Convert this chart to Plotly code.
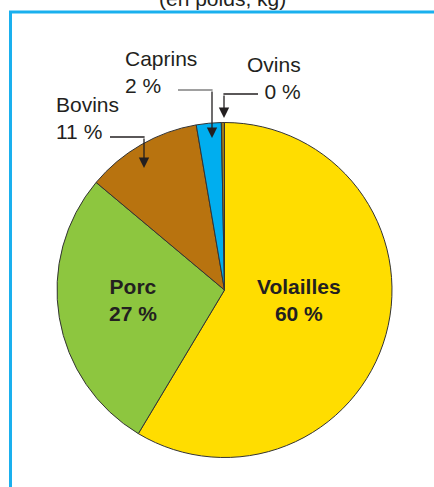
import plotly.graph_objects as go

W, H = 434, 487

# Data
categories = ["Volailles", "Porc", "Bovins", "Caprins", "Ovins"]
shares = [58.6, 27.5, 11.2, 2.4, 0.3]          # angular share
labels_pct = ["60 %", "27 %", "11 %", "2 %", "0 %"]  # printed labels
colors = ["#FFDD00", "#8DC63F", "#B8730F", "#00AEEF", "#9C7A1A"]

def px(x):
    return x / W

def py(y):
    return 1 - y / H

FONT = "Liberation Sans, Arial"

fig = go.Figure()
fig.add_trace(go.Pie(
    labels=categories,
    values=shares,
    sort=False,
    direction="clockwise",
    rotation=0,
    marker=dict(colors=colors, line=dict(color="#333333", width=1)),
    textinfo="none",
    hoverinfo="label+percent",
    domain=dict(x=[px(57), px(392)], y=[py(457.5), py(122.5)]),
    showlegend=False,
))

ann = []
# inside bold labels
inside = {"Volailles": (299, 300), "Porc": (133, 300)}
for name, (x, y) in inside.items():
    i = categories.index(name)
    ann.append(dict(x=px(x), y=py(y), xref="paper", yref="paper",
                    text=f"<b>{name}<br>{labels_pct[i]}</b>", showarrow=False,
                    font=dict(family=FONT, size=21, color="#231F20"),
                    xanchor="center", yanchor="middle", align="center"))

# outside labels
outside = {"Bovins": (54, 118, "left"), "Caprins": (123, 72, "left"), "Ovins": (303, 78, "right")}
for name, (x, y, al) in outside.items():
    i = categories.index(name)
    ann.append(dict(x=px(x), y=py(y), xref="paper", yref="paper",
                    text=f"{name}<br>{labels_pct[i]}", showarrow=False,
                    font=dict(family=FONT, size=21, color="#231F20"),
                    xanchor=al, yanchor="middle", align=al))

# arrows (vertical parts)
arrows = [((144, 168), (144, 137), "#231F20"),
          ((212, 138), (212, 90), "#231F20"),
          ((224, 118), (224, 94), "#231F20")]
for (hx, hy), (tx, ty), c in arrows:
    ann.append(dict(x=px(hx), y=py(hy), xref="paper", yref="paper",
                    ax=tx - hx, ay=ty - hy,
                    showarrow=True, arrowhead=2, arrowsize=1.6, arrowwidth=1.3,
                    arrowcolor=c, text=""))

# partial title at top (cut off in the reference)
ann.append(dict(x=px(222), y=py(-2), xref="paper", yref="paper",
                text="(en poids, kg)", showarrow=False,
                font=dict(family=FONT, size=21, color="#231F20"),
                xanchor="center", yanchor="middle"))

shapes = [
    dict(type="line", xref="paper", yref="paper", x0=px(110), y0=py(137), x1=px(144.6), y1=py(137),
         line=dict(color="#231F20", width=1.3)),
    dict(type="line", xref="paper", yref="paper", x0=px(178), y0=py(90), x1=px(212.6), y1=py(90),
         line=dict(color="#808080", width=1.3)),
    dict(type="line", xref="paper", yref="paper", x0=px(258), y0=py(94), x1=px(223.4), y1=py(94),
         line=dict(color="#231F20", width=1.3)),
    dict(type="rect", xref="paper", yref="paper", x0=px(10.5), y0=py(500), x1=px(450), y1=py(12),
         line=dict(color="#1AB0EE", width=3), fillcolor="rgba(0,0,0,0)", layer="below"),
]

fig.update_layout(
    width=W, height=H,
    margin=dict(l=0, r=0, t=0, b=0),
    paper_bgcolor="white", plot_bgcolor="white",
    annotations=ann, shapes=shapes,
)

fig.write_html("out.html", config={"displayModeBar": False},
               post_script="document.body.style.margin='0';document.body.style.overflow='hidden';")
